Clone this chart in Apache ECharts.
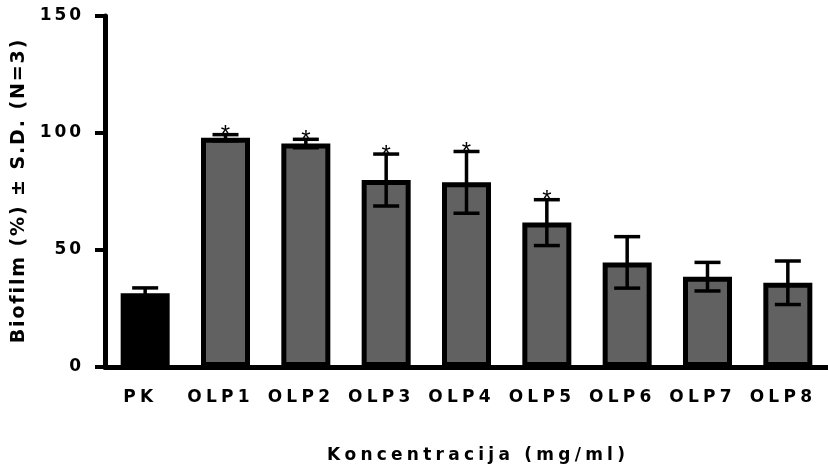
<!DOCTYPE html>
<html>
<head>
<meta charset="utf-8">
<script src="https://cdn.jsdelivr.net/npm/echarts@6/dist/echarts.min.js"></script>
<style>
  html, body { margin: 0; padding: 0; background: #fff; }
  #main { width: 828px; height: 476px; }
</style>
</head>
<body>
<div id="main"></div>
<script>
var categories = ['PK', 'OLP1', 'OLP2', 'OLP3', 'OLP4', 'OLP5', 'OLP6', 'OLP7', 'OLP8'];
var means = [31.5, 98, 95.5, 79.9, 78.9, 61.7, 44.7, 38.6, 36.0];
var sds = [2.3, 1.3, 1.8, 11.1, 13.2, 9.8, 11, 6.1, 9.3];
var stars = ['', '*', '*', '*', '*', '*', '', '', ''];
var yTicks = [0, 50, 100, 150];

// the original text is stretched wide, imitate it with a wide font and small spaces
function spaced(s, sp) {
  return s.split('').join(sp);
}
var FONT = 'DejaVu Sans';

var barData = means.map(function (v, i) {
  return {
    value: v,
    itemStyle: { color: i === 0 ? '#000' : '#616161' }
  };
});
var errData = means.map(function (v, i) {
  return [i, v, sds[i]];
});

function renderErr(params, api) {
  var i = api.value(0), m = api.value(1), s = api.value(2);
  var top = api.coord([i, m + s]);
  var bot = api.coord([i, m - s]);
  var x = top[0], hw = 13;
  var st = { stroke: '#000', lineWidth: 3.5 };
  var kids = [
    { type: 'line', shape: { x1: x, y1: top[1], x2: x, y2: bot[1] }, style: st },
    { type: 'line', shape: { x1: x - hw, y1: top[1], x2: x + hw, y2: top[1] }, style: st },
    { type: 'line', shape: { x1: x - hw, y1: bot[1], x2: x + hw, y2: bot[1] }, style: st }
  ];
  if (stars[i]) {
    kids.push({
      type: 'text',
      style: {
        text: stars[i], x: x, y: top[1] + 1,
        align: 'center', verticalAlign: 'middle',
        font: 'normal 24px "Liberation Sans"', fill: '#000'
      }
    });
  }
  return { type: 'group', children: kids };
}

var option = {
  animation: false,
  backgroundColor: '#fff',
  grid: { left: 105, top: 16, width: 729, height: 351, containLabel: false },
  xAxis: {
    type: 'category',
    data: categories,
    name: spaced('Koncentracija (mg/ml)', '\u2005'),
    nameLocation: 'middle',
    nameGap: 80,
    nameTextStyle: { fontFamily: FONT, fontWeight: 'bold', fontSize: 17, color: '#000', padding: [0, 0, 0, 19] },
    axisLine: { lineStyle: { color: '#000', width: 5 } },
    axisTick: { show: false },
    axisLabel: {
      interval: 0,
      hideOverlap: false,
      formatter: function (v) { return spaced(v, '\u2005'); },
      fontFamily: FONT, fontWeight: 'bold', fontSize: 17, color: '#000',
      margin: 22, padding: [0, 14, 0, 0]
    },
    splitLine: { show: false }
  },
  yAxis: {
    type: 'value',
    min: yTicks[0],
    max: yTicks[yTicks.length - 1],
    interval: yTicks[1] - yTicks[0],
    name: spaced('Biofilm (%) ± S.D. (N=3)', '\u200A'),
    nameLocation: 'middle',
    nameGap: 72,
    nameTextStyle: { fontFamily: FONT, fontWeight: 'bold', fontSize: 19, color: '#000' },
    axisLine: { show: true, lineStyle: { color: '#000', width: 5 } },
    axisTick: { show: true, length: 10, lineStyle: { color: '#000', width: 4 } },
    axisLabel: {
      formatter: function (v) { return spaced(String(v), '\u2006'); },
      fontFamily: FONT, fontWeight: 'bold', fontSize: 17, color: '#000',
      margin: 24
    },
    splitLine: { show: false }
  },
  series: [
    {
      type: 'bar',
      data: barData,
      barWidth: 49,
      itemStyle: { borderColor: '#000', borderWidth: 5 },
      z: 2
    },
    {
      type: 'custom',
      data: errData,
      renderItem: renderErr,
      z: 3
    }
  ]
};

echarts.init(document.getElementById('main')).setOption(option);
</script>
</body>
</html>
